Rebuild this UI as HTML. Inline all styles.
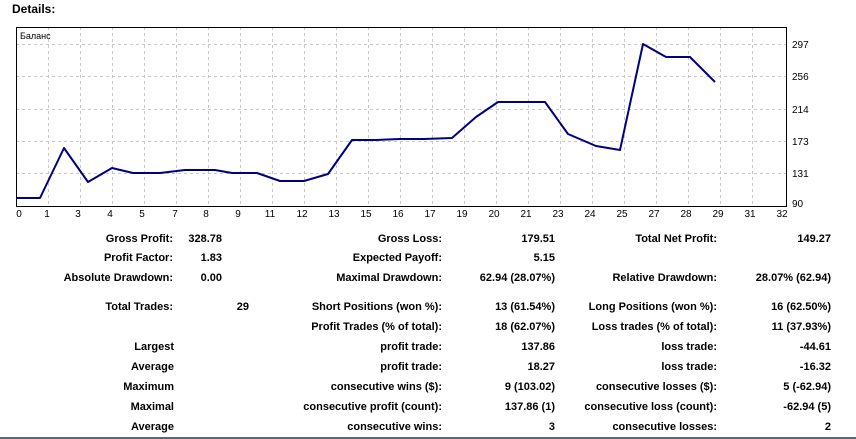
<!DOCTYPE html>
<html><head><meta charset="utf-8"><style>
body{margin:0;width:856px;height:439px;background:#fff;position:relative;overflow:hidden;font-family:Tahoma,"Liberation Sans","DejaVu Sans",sans-serif;}
.t{position:absolute;font-size:11px;font-weight:bold;color:#000;white-space:nowrap;line-height:13px;}
.r{transform:translateX(-100%);}
</style></head><body>
<div class="t" style="left:12px;top:3px;font-size:12px">Details:</div>
<svg width="856" height="230" style="position:absolute;left:0;top:0" xmlns="http://www.w3.org/2000/svg" font-family="Tahoma,Liberation Sans,sans-serif" font-size="10">
<g stroke="#c8c8c8" stroke-dasharray="3,3" stroke-width="1">
<line x1="16" x2="787" y1="44.5" y2="44.5"/><line x1="16" x2="787" y1="76.5" y2="76.5"/><line x1="16" x2="787" y1="109.5" y2="109.5"/><line x1="16" x2="787" y1="141.5" y2="141.5"/><line x1="16" x2="787" y1="173.5" y2="173.5"/>
<line x1="48.5" x2="48.5" y1="27" y2="206"/><line x1="80.5" x2="80.5" y1="27" y2="206"/><line x1="112.5" x2="112.5" y1="27" y2="206"/><line x1="144.5" x2="144.5" y1="27" y2="206"/><line x1="176.5" x2="176.5" y1="27" y2="206"/><line x1="208.5" x2="208.5" y1="27" y2="206"/><line x1="240.5" x2="240.5" y1="27" y2="206"/><line x1="272.5" x2="272.5" y1="27" y2="206"/><line x1="304.5" x2="304.5" y1="27" y2="206"/><line x1="336.5" x2="336.5" y1="27" y2="206"/><line x1="368.5" x2="368.5" y1="27" y2="206"/><line x1="400.5" x2="400.5" y1="27" y2="206"/><line x1="432.5" x2="432.5" y1="27" y2="206"/><line x1="464.5" x2="464.5" y1="27" y2="206"/><line x1="496.5" x2="496.5" y1="27" y2="206"/><line x1="528.5" x2="528.5" y1="27" y2="206"/><line x1="560.5" x2="560.5" y1="27" y2="206"/><line x1="592.5" x2="592.5" y1="27" y2="206"/><line x1="624.5" x2="624.5" y1="27" y2="206"/><line x1="656.5" x2="656.5" y1="27" y2="206"/><line x1="688.5" x2="688.5" y1="27" y2="206"/><line x1="720.5" x2="720.5" y1="27" y2="206"/><line x1="752.5" x2="752.5" y1="27" y2="206"/>
</g>
<rect x="16.5" y="27.5" width="770" height="179" fill="none" stroke="#000" stroke-width="1"/>
<polyline fill="none" stroke="#000080" stroke-width="2" stroke-linejoin="round" points="16,198 40,198 64,148 88,182 112,168 133,173 160,173 185,170 215,170 232,173 257,173 280,181 304,181 328,174 352,140 376,140 400,139 424,139 452,138 476,117 498,102 522,102 545,102 568,134 596,146 620,150 643,44 666,57 690,57 715,82"/>
<text x="20" y="39" font-size="9">Баланс</text>
<g font-size="10" fill="#000">
<text x="792" y="48">297</text><text x="792" y="80">256</text><text x="792" y="113">214</text><text x="792" y="145">173</text><text x="792" y="177">131</text><text x="792" y="207">90</text>
</g>
<g font-size="10" fill="#000" text-anchor="middle">
<text x="19" y="217">0</text><text x="47" y="217">1</text><text x="78" y="217">3</text><text x="110" y="217">4</text><text x="142" y="217">5</text><text x="175" y="217">7</text><text x="206" y="217">8</text><text x="238" y="217">9</text><text x="270" y="217">11</text><text x="302" y="217">12</text><text x="334" y="217">13</text><text x="366" y="217">15</text><text x="398" y="217">16</text><text x="430" y="217">17</text><text x="462" y="217">19</text><text x="494" y="217">20</text><text x="526" y="217">21</text><text x="558" y="217">23</text><text x="590" y="217">24</text><text x="622" y="217">25</text><text x="654" y="217">27</text><text x="686" y="217">28</text><text x="718" y="217">29</text><text x="750" y="217">31</text><text x="782" y="217">32</text>
</g>
</svg>

<div class="t r" style="left:173px;top:233px">Gross Profit:</div><div class="t r" style="left:222px;top:233px">328.78</div>
<div class="t r" style="left:442px;top:233px">Gross Loss:</div><div class="t r" style="left:555px;top:233px">179.51</div>
<div class="t r" style="left:717px;top:233px">Total Net Profit:</div><div class="t r" style="left:831px;top:233px">149.27</div>

<div class="t r" style="left:173px;top:252px">Profit Factor:</div><div class="t r" style="left:222px;top:252px">1.83</div>
<div class="t r" style="left:442px;top:252px">Expected Payoff:</div><div class="t r" style="left:555px;top:252px">5.15</div>

<div class="t r" style="left:173px;top:272px">Absolute Drawdown:</div><div class="t r" style="left:222px;top:272px">0.00</div>
<div class="t r" style="left:442px;top:272px">Maximal Drawdown:</div><div class="t r" style="left:555px;top:272px">62.94 (28.07%)</div>
<div class="t r" style="left:717px;top:272px">Relative Drawdown:</div><div class="t r" style="left:831px;top:272px">28.07% (62.94)</div>

<div class="t r" style="left:173px;top:301px">Total Trades:</div><div class="t r" style="left:249px;top:301px">29</div>
<div class="t r" style="left:442px;top:301px">Short Positions (won %):</div><div class="t r" style="left:555px;top:301px">13 (61.54%)</div>
<div class="t r" style="left:717px;top:301px">Long Positions (won %):</div><div class="t r" style="left:831px;top:301px">16 (62.50%)</div>

<div class="t r" style="left:442px;top:321px">Profit Trades (% of total):</div><div class="t r" style="left:555px;top:321px">18 (62.07%)</div>
<div class="t r" style="left:717px;top:321px">Loss trades (% of total):</div><div class="t r" style="left:831px;top:321px">11 (37.93%)</div>

<div class="t r" style="left:174px;top:341px">Largest</div>
<div class="t r" style="left:442px;top:341px">profit trade:</div><div class="t r" style="left:555px;top:341px">137.86</div>
<div class="t r" style="left:717px;top:341px">loss trade:</div><div class="t r" style="left:831px;top:341px">-44.61</div>

<div class="t r" style="left:174px;top:361px">Average</div>
<div class="t r" style="left:442px;top:361px">profit trade:</div><div class="t r" style="left:555px;top:361px">18.27</div>
<div class="t r" style="left:717px;top:361px">loss trade:</div><div class="t r" style="left:831px;top:361px">-16.32</div>

<div class="t r" style="left:174px;top:381px">Maximum</div>
<div class="t r" style="left:442px;top:381px">consecutive wins ($):</div><div class="t r" style="left:555px;top:381px">9 (103.02)</div>
<div class="t r" style="left:717px;top:381px">consecutive losses ($):</div><div class="t r" style="left:831px;top:381px">5 (-62.94)</div>

<div class="t r" style="left:174px;top:401px">Maximal</div>
<div class="t r" style="left:442px;top:401px">consecutive profit (count):</div><div class="t r" style="left:555px;top:401px">137.86 (1)</div>
<div class="t r" style="left:717px;top:401px">consecutive loss (count):</div><div class="t r" style="left:831px;top:401px">-62.94 (5)</div>

<div class="t r" style="left:174px;top:421px">Average</div>
<div class="t r" style="left:442px;top:421px">consecutive wins:</div><div class="t r" style="left:555px;top:421px">3</div>
<div class="t r" style="left:717px;top:421px">consecutive losses:</div><div class="t r" style="left:831px;top:421px">2</div>

<div style="position:absolute;left:0;top:437px;width:856px;height:2px;background:#5a6a7a"></div>
</body></html>
